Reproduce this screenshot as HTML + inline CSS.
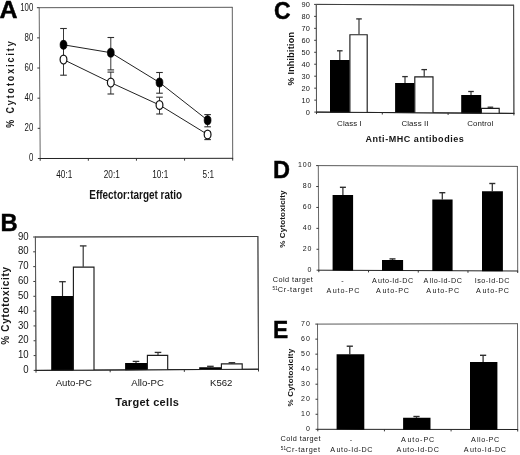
<!DOCTYPE html>
<html><head><meta charset="utf-8"><title>Figure</title>
<style>
html,body{margin:0;padding:0;background:#fff;}
body{width:520px;height:455px;overflow:hidden;font-family:"Liberation Sans",sans-serif;}
svg{display:block;filter:blur(0.3px);}
svg text{font-family:"Liberation Sans",sans-serif;}
</style></head><body>
<svg width="520" height="455" viewBox="0 0 520 455">
<rect x="0" y="0" width="520" height="455" fill="#fff"/>
<g>
<rect x="0" y="0" width="520" height="455" fill="#fff"/>
<line x1="39.20" y1="7.70" x2="232.30" y2="7.30" stroke="#3c3c3c" stroke-width="0.85"/>
<line x1="232.30" y1="6.90" x2="232.70" y2="158.70" stroke="#444" stroke-width="0.85"/>
<line x1="39.20" y1="7.30" x2="40.20" y2="158.90" stroke="#555" stroke-width="0.9"/>
<line x1="39.80" y1="158.50" x2="233.10" y2="158.30" stroke="#222" stroke-width="1.0"/>
<line x1="37.90" y1="158.50" x2="40.20" y2="158.50" stroke="#2e2e2e" stroke-width="0.95"/>
<line x1="37.70" y1="128.34" x2="40.00" y2="128.34" stroke="#2e2e2e" stroke-width="0.95"/>
<line x1="37.50" y1="98.18" x2="39.80" y2="98.18" stroke="#2e2e2e" stroke-width="0.95"/>
<line x1="37.30" y1="68.02" x2="39.60" y2="68.02" stroke="#2e2e2e" stroke-width="0.95"/>
<line x1="37.10" y1="37.86" x2="39.40" y2="37.86" stroke="#2e2e2e" stroke-width="0.95"/>
<line x1="36.90" y1="7.70" x2="39.20" y2="7.70" stroke="#2e2e2e" stroke-width="0.95"/>
<line x1="40.20" y1="158.50" x2="40.20" y2="160.80" stroke="#2e2e2e" stroke-width="0.95"/>
<line x1="88.33" y1="158.45" x2="88.33" y2="160.75" stroke="#2e2e2e" stroke-width="0.95"/>
<line x1="136.45" y1="158.40" x2="136.45" y2="160.70" stroke="#2e2e2e" stroke-width="0.95"/>
<line x1="184.57" y1="158.35" x2="184.57" y2="160.65" stroke="#2e2e2e" stroke-width="0.95"/>
<line x1="232.70" y1="158.30" x2="232.70" y2="160.60" stroke="#2e2e2e" stroke-width="0.95"/>
<text transform="translate(33.30,161.30) scale(0.76,1)" font-size="10.3" text-anchor="end" fill="#151515">0</text>
<text transform="translate(33.30,131.14) scale(0.76,1)" font-size="10.3" text-anchor="end" fill="#151515">20</text>
<text transform="translate(33.30,100.98) scale(0.76,1)" font-size="10.3" text-anchor="end" fill="#151515">40</text>
<text transform="translate(33.30,70.82) scale(0.76,1)" font-size="10.3" text-anchor="end" fill="#151515">60</text>
<text transform="translate(33.30,40.66) scale(0.76,1)" font-size="10.3" text-anchor="end" fill="#151515">80</text>
<text transform="translate(33.30,10.50) scale(0.76,1)" font-size="10.3" text-anchor="end" fill="#151515">100</text>
<line x1="63.50" y1="28.50" x2="63.50" y2="61.00" stroke="#2e2e2e" stroke-width="0.95"/>
<line x1="60.20" y1="28.50" x2="66.80" y2="28.50" stroke="#2e2e2e" stroke-width="1.0999999999999999"/>
<line x1="60.20" y1="61.00" x2="66.80" y2="61.00" stroke="#2e2e2e" stroke-width="1.0999999999999999"/>
<line x1="110.80" y1="37.50" x2="110.80" y2="69.90" stroke="#2e2e2e" stroke-width="0.95"/>
<line x1="107.50" y1="37.50" x2="114.10" y2="37.50" stroke="#2e2e2e" stroke-width="1.0999999999999999"/>
<line x1="107.50" y1="69.90" x2="114.10" y2="69.90" stroke="#2e2e2e" stroke-width="1.0999999999999999"/>
<line x1="159.50" y1="72.50" x2="159.50" y2="93.20" stroke="#2e2e2e" stroke-width="0.95"/>
<line x1="156.20" y1="72.50" x2="162.80" y2="72.50" stroke="#2e2e2e" stroke-width="1.0999999999999999"/>
<line x1="156.20" y1="93.20" x2="162.80" y2="93.20" stroke="#2e2e2e" stroke-width="1.0999999999999999"/>
<line x1="207.60" y1="114.60" x2="207.60" y2="126.80" stroke="#2e2e2e" stroke-width="0.95"/>
<line x1="204.30" y1="114.60" x2="210.90" y2="114.60" stroke="#2e2e2e" stroke-width="1.0999999999999999"/>
<line x1="204.30" y1="126.80" x2="210.90" y2="126.80" stroke="#2e2e2e" stroke-width="1.0999999999999999"/>
<line x1="63.50" y1="44.00" x2="63.50" y2="75.20" stroke="#2e2e2e" stroke-width="0.95"/>
<line x1="60.20" y1="44.00" x2="66.80" y2="44.00" stroke="#2e2e2e" stroke-width="1.0999999999999999"/>
<line x1="60.20" y1="75.20" x2="66.80" y2="75.20" stroke="#2e2e2e" stroke-width="1.0999999999999999"/>
<line x1="110.80" y1="72.10" x2="110.80" y2="94.00" stroke="#2e2e2e" stroke-width="0.95"/>
<line x1="107.50" y1="72.10" x2="114.10" y2="72.10" stroke="#2e2e2e" stroke-width="1.0999999999999999"/>
<line x1="107.50" y1="94.00" x2="114.10" y2="94.00" stroke="#2e2e2e" stroke-width="1.0999999999999999"/>
<line x1="159.50" y1="97.20" x2="159.50" y2="114.00" stroke="#2e2e2e" stroke-width="0.95"/>
<line x1="156.20" y1="97.20" x2="162.80" y2="97.20" stroke="#2e2e2e" stroke-width="1.0999999999999999"/>
<line x1="156.20" y1="114.00" x2="162.80" y2="114.00" stroke="#2e2e2e" stroke-width="1.0999999999999999"/>
<line x1="207.60" y1="131.50" x2="207.60" y2="139.60" stroke="#2e2e2e" stroke-width="0.95"/>
<line x1="204.30" y1="131.50" x2="210.90" y2="131.50" stroke="#2e2e2e" stroke-width="1.0999999999999999"/>
<line x1="204.30" y1="139.60" x2="210.90" y2="139.60" stroke="#2e2e2e" stroke-width="1.0999999999999999"/>
<polyline fill="none" stroke="#222" stroke-width="1.0" points="63.50,44.80 110.80,52.70 159.50,82.50 207.60,120.20"/>
<polyline fill="none" stroke="#222" stroke-width="1.0" points="63.50,59.60 110.80,82.60 159.50,105.00 207.60,134.50"/>
<ellipse cx="63.50" cy="59.60" rx="3.4" ry="4.4" fill="#fff" stroke="#111" stroke-width="1.2"/>
<ellipse cx="110.80" cy="82.60" rx="3.4" ry="4.4" fill="#fff" stroke="#111" stroke-width="1.2"/>
<ellipse cx="159.50" cy="105.00" rx="3.4" ry="4.4" fill="#fff" stroke="#111" stroke-width="1.2"/>
<ellipse cx="207.60" cy="134.50" rx="3.4" ry="4.4" fill="#fff" stroke="#111" stroke-width="1.2"/>
<ellipse cx="63.50" cy="44.80" rx="3.4" ry="4.5" fill="#000" stroke="#000" stroke-width="0.7"/>
<ellipse cx="110.80" cy="52.70" rx="3.4" ry="4.5" fill="#000" stroke="#000" stroke-width="0.7"/>
<ellipse cx="159.50" cy="82.50" rx="3.4" ry="4.5" fill="#000" stroke="#000" stroke-width="0.7"/>
<ellipse cx="207.60" cy="120.20" rx="3.4" ry="4.5" fill="#000" stroke="#000" stroke-width="0.7"/>
<text transform="translate(64.30,177.70) scale(0.8,1)" font-size="10.3" text-anchor="middle" fill="#151515">40:1</text>
<text transform="translate(111.80,177.70) scale(0.8,1)" font-size="10.3" text-anchor="middle" fill="#151515">20:1</text>
<text transform="translate(160.20,177.70) scale(0.8,1)" font-size="10.3" text-anchor="middle" fill="#151515">10:1</text>
<text transform="translate(208.30,177.70) scale(0.8,1)" font-size="10.3" text-anchor="middle" fill="#151515">5:1</text>
<text transform="translate(135.70,199.30) scale(0.83,1)" font-size="12" text-anchor="middle" font-weight="bold" fill="#151515">Effector:target ratio</text>
<text transform="translate(13.60,83.60) rotate(-90) scale(0.85,1)" font-size="10.5" text-anchor="middle" font-weight="bold" letter-spacing="2.27" fill="#151515">% Cytotoxicity</text>
<text transform="translate(8.50,18.40) scale(1.04,1)" font-size="24" text-anchor="middle" font-weight="bold" stroke="#000" stroke-width="0.45" fill="#000">A</text>
<line x1="35.40" y1="237.00" x2="257.90" y2="236.50" stroke="#3c3c3c" stroke-width="0.85"/>
<line x1="257.90" y1="236.10" x2="258.50" y2="369.60" stroke="#444" stroke-width="0.85"/>
<line x1="35.40" y1="236.60" x2="36.00" y2="370.80" stroke="#555" stroke-width="0.9"/>
<line x1="35.60" y1="370.40" x2="258.90" y2="369.20" stroke="#222" stroke-width="1.0"/>
<line x1="33.70" y1="370.40" x2="36.00" y2="370.40" stroke="#2e2e2e" stroke-width="0.95"/>
<line x1="33.63" y1="355.58" x2="35.93" y2="355.58" stroke="#2e2e2e" stroke-width="0.95"/>
<line x1="33.57" y1="340.76" x2="35.87" y2="340.76" stroke="#2e2e2e" stroke-width="0.95"/>
<line x1="33.50" y1="325.93" x2="35.80" y2="325.93" stroke="#2e2e2e" stroke-width="0.95"/>
<line x1="33.43" y1="311.11" x2="35.73" y2="311.11" stroke="#2e2e2e" stroke-width="0.95"/>
<line x1="33.37" y1="296.29" x2="35.67" y2="296.29" stroke="#2e2e2e" stroke-width="0.95"/>
<line x1="33.30" y1="281.47" x2="35.60" y2="281.47" stroke="#2e2e2e" stroke-width="0.95"/>
<line x1="33.23" y1="266.64" x2="35.53" y2="266.64" stroke="#2e2e2e" stroke-width="0.95"/>
<line x1="33.17" y1="251.82" x2="35.47" y2="251.82" stroke="#2e2e2e" stroke-width="0.95"/>
<line x1="33.10" y1="237.00" x2="35.40" y2="237.00" stroke="#2e2e2e" stroke-width="0.95"/>
<line x1="36.00" y1="370.40" x2="36.00" y2="372.70" stroke="#2e2e2e" stroke-width="0.95"/>
<line x1="110.17" y1="370.00" x2="110.17" y2="372.30" stroke="#2e2e2e" stroke-width="0.95"/>
<line x1="184.33" y1="369.60" x2="184.33" y2="371.90" stroke="#2e2e2e" stroke-width="0.95"/>
<line x1="258.50" y1="369.20" x2="258.50" y2="371.50" stroke="#2e2e2e" stroke-width="0.95"/>
<text transform="translate(28.60,373.00) scale(0.96,1)" font-size="10" text-anchor="end" fill="#151515">0</text>
<text transform="translate(28.60,358.18) scale(0.96,1)" font-size="10" text-anchor="end" fill="#151515">10</text>
<text transform="translate(28.60,343.36) scale(0.96,1)" font-size="10" text-anchor="end" fill="#151515">20</text>
<text transform="translate(28.60,328.53) scale(0.96,1)" font-size="10" text-anchor="end" fill="#151515">30</text>
<text transform="translate(28.60,313.71) scale(0.96,1)" font-size="10" text-anchor="end" fill="#151515">40</text>
<text transform="translate(28.60,298.89) scale(0.96,1)" font-size="10" text-anchor="end" fill="#151515">50</text>
<text transform="translate(28.60,284.07) scale(0.96,1)" font-size="10" text-anchor="end" fill="#151515">60</text>
<text transform="translate(28.60,269.24) scale(0.96,1)" font-size="10" text-anchor="end" fill="#151515">70</text>
<text transform="translate(28.60,254.42) scale(0.96,1)" font-size="10" text-anchor="end" fill="#151515">80</text>
<text transform="translate(28.60,239.60) scale(0.96,1)" font-size="10" text-anchor="end" fill="#151515">90</text>
<line x1="62.50" y1="281.70" x2="62.50" y2="296.10" stroke="#2e2e2e" stroke-width="1.15"/>
<line x1="59.20" y1="281.70" x2="65.80" y2="281.70" stroke="#2e2e2e" stroke-width="1.2999999999999998"/>
<line x1="83.20" y1="245.90" x2="83.20" y2="266.70" stroke="#2e2e2e" stroke-width="1.15"/>
<line x1="79.90" y1="245.90" x2="86.50" y2="245.90" stroke="#2e2e2e" stroke-width="1.2999999999999998"/>
<polygon points="51.20,296.10 73.20,296.10 73.20,370.50 51.20,370.62" fill="#000" stroke="none"/>
<polyline points="73.40,370.20 73.40,267.10 94.00,267.10 94.00,370.09" fill="#fff" stroke="#1c1c1c" stroke-width="1.15"/>
<line x1="136.00" y1="361.40" x2="136.00" y2="363.00" stroke="#2e2e2e" stroke-width="1.15"/>
<line x1="132.70" y1="361.40" x2="139.30" y2="361.40" stroke="#2e2e2e" stroke-width="1.2999999999999998"/>
<line x1="158.00" y1="352.40" x2="158.00" y2="355.00" stroke="#2e2e2e" stroke-width="1.15"/>
<line x1="154.70" y1="352.40" x2="161.30" y2="352.40" stroke="#2e2e2e" stroke-width="1.2999999999999998"/>
<polygon points="125.10,363.00 147.20,363.00 147.20,370.10 125.10,370.22" fill="#000" stroke="none"/>
<polyline points="147.40,369.80 147.40,355.40 167.70,355.40 167.70,369.69" fill="#fff" stroke="#1c1c1c" stroke-width="1.15"/>
<line x1="210.40" y1="366.30" x2="210.40" y2="367.30" stroke="#2e2e2e" stroke-width="1.15"/>
<line x1="207.10" y1="366.30" x2="213.70" y2="366.30" stroke="#2e2e2e" stroke-width="1.2999999999999998"/>
<line x1="231.90" y1="362.70" x2="231.90" y2="363.50" stroke="#2e2e2e" stroke-width="1.15"/>
<line x1="228.60" y1="362.70" x2="235.20" y2="362.70" stroke="#2e2e2e" stroke-width="1.2999999999999998"/>
<polygon points="199.20,367.30 221.20,367.30 221.20,369.70 199.20,369.82" fill="#000" stroke="none"/>
<polyline points="221.40,369.40 221.40,363.90 242.20,363.90 242.20,369.29" fill="#fff" stroke="#1c1c1c" stroke-width="1.15"/>
<line x1="35.40" y1="237.00" x2="257.90" y2="236.50" stroke="#3c3c3c" stroke-width="0.85"/>
<line x1="257.90" y1="236.10" x2="258.50" y2="369.60" stroke="#444" stroke-width="0.85"/>
<line x1="35.40" y1="236.60" x2="36.00" y2="370.80" stroke="#555" stroke-width="0.9"/>
<line x1="35.60" y1="370.40" x2="258.90" y2="369.20" stroke="#222" stroke-width="1.0"/>
<text transform="translate(73.80,386.30)" font-size="9.6" text-anchor="middle" fill="#151515">Auto-PC</text>
<text transform="translate(147.60,386.30)" font-size="9.6" text-anchor="middle" fill="#151515">Allo-PC</text>
<text transform="translate(221.20,386.30)" font-size="9.6" text-anchor="middle" fill="#151515">K562</text>
<text transform="translate(147.20,405.80)" font-size="11" text-anchor="middle" font-weight="bold" letter-spacing="0.3" fill="#151515">Target cells</text>
<text transform="translate(9.30,305.50) rotate(-90)" font-size="10" text-anchor="middle" font-weight="bold" letter-spacing="0.68" fill="#151515">% Cytotoxicity</text>
<text transform="translate(9.00,230.70) scale(0.97,1)" font-size="24.5" text-anchor="middle" font-weight="bold" stroke="#000" stroke-width="0.45" fill="#000">B</text>
<line x1="316.30" y1="4.40" x2="513.60" y2="5.20" stroke="#3c3c3c" stroke-width="0.85"/>
<line x1="513.60" y1="4.80" x2="513.90" y2="113.80" stroke="#444" stroke-width="0.85"/>
<line x1="316.30" y1="4.00" x2="316.50" y2="112.50" stroke="#555" stroke-width="0.9"/>
<line x1="316.10" y1="112.10" x2="514.30" y2="113.40" stroke="#222" stroke-width="1.0"/>
<line x1="314.30" y1="112.10" x2="316.50" y2="112.10" stroke="#2e2e2e" stroke-width="0.95"/>
<line x1="314.28" y1="100.13" x2="316.48" y2="100.13" stroke="#2e2e2e" stroke-width="0.95"/>
<line x1="314.26" y1="88.17" x2="316.46" y2="88.17" stroke="#2e2e2e" stroke-width="0.95"/>
<line x1="314.23" y1="76.20" x2="316.43" y2="76.20" stroke="#2e2e2e" stroke-width="0.95"/>
<line x1="314.21" y1="64.23" x2="316.41" y2="64.23" stroke="#2e2e2e" stroke-width="0.95"/>
<line x1="314.19" y1="52.27" x2="316.39" y2="52.27" stroke="#2e2e2e" stroke-width="0.95"/>
<line x1="314.17" y1="40.30" x2="316.37" y2="40.30" stroke="#2e2e2e" stroke-width="0.95"/>
<line x1="314.14" y1="28.33" x2="316.34" y2="28.33" stroke="#2e2e2e" stroke-width="0.95"/>
<line x1="314.12" y1="16.37" x2="316.32" y2="16.37" stroke="#2e2e2e" stroke-width="0.95"/>
<line x1="314.10" y1="4.40" x2="316.30" y2="4.40" stroke="#2e2e2e" stroke-width="0.95"/>
<text transform="translate(309.90,114.50)" font-size="7.4" text-anchor="end" letter-spacing="0.1" fill="#151515">0</text>
<text transform="translate(309.90,102.53)" font-size="7.4" text-anchor="end" letter-spacing="0.1" fill="#151515">10</text>
<text transform="translate(309.90,90.57)" font-size="7.4" text-anchor="end" letter-spacing="0.1" fill="#151515">20</text>
<text transform="translate(309.90,78.60)" font-size="7.4" text-anchor="end" letter-spacing="0.1" fill="#151515">30</text>
<text transform="translate(309.90,66.63)" font-size="7.4" text-anchor="end" letter-spacing="0.1" fill="#151515">40</text>
<text transform="translate(309.90,54.67)" font-size="7.4" text-anchor="end" letter-spacing="0.1" fill="#151515">50</text>
<text transform="translate(309.90,42.70)" font-size="7.4" text-anchor="end" letter-spacing="0.1" fill="#151515">60</text>
<text transform="translate(309.90,30.73)" font-size="7.4" text-anchor="end" letter-spacing="0.1" fill="#151515">70</text>
<text transform="translate(309.90,18.77)" font-size="7.4" text-anchor="end" letter-spacing="0.1" fill="#151515">80</text>
<text transform="translate(309.90,6.80)" font-size="7.4" text-anchor="end" letter-spacing="0.1" fill="#151515">90</text>
<line x1="339.80" y1="50.80" x2="339.80" y2="60.00" stroke="#2e2e2e" stroke-width="1.15"/>
<line x1="337.00" y1="50.80" x2="342.60" y2="50.80" stroke="#2e2e2e" stroke-width="1.2999999999999998"/>
<line x1="359.00" y1="18.90" x2="359.00" y2="34.30" stroke="#2e2e2e" stroke-width="1.15"/>
<line x1="356.20" y1="18.90" x2="361.80" y2="18.90" stroke="#2e2e2e" stroke-width="1.2999999999999998"/>
<polygon points="330.00,60.00 349.70,60.00 349.70,112.62 330.00,112.49" fill="#000" stroke="none"/>
<polyline points="349.90,112.32 349.90,34.70 367.20,34.70 367.20,112.43" fill="#fff" stroke="#1c1c1c" stroke-width="1.15"/>
<line x1="405.00" y1="76.60" x2="405.00" y2="83.10" stroke="#2e2e2e" stroke-width="1.15"/>
<line x1="402.20" y1="76.60" x2="407.80" y2="76.60" stroke="#2e2e2e" stroke-width="1.2999999999999998"/>
<line x1="424.20" y1="69.60" x2="424.20" y2="76.50" stroke="#2e2e2e" stroke-width="1.15"/>
<line x1="421.40" y1="69.60" x2="427.00" y2="69.60" stroke="#2e2e2e" stroke-width="1.2999999999999998"/>
<polygon points="395.10,83.10 414.60,83.10 414.60,113.05 395.10,112.92" fill="#000" stroke="none"/>
<polyline points="414.80,112.75 414.80,76.90 433.00,76.90 433.00,112.87" fill="#fff" stroke="#1c1c1c" stroke-width="1.15"/>
<line x1="471.00" y1="91.50" x2="471.00" y2="95.10" stroke="#2e2e2e" stroke-width="1.15"/>
<line x1="468.20" y1="91.50" x2="473.80" y2="91.50" stroke="#2e2e2e" stroke-width="1.2999999999999998"/>
<line x1="490.40" y1="107.20" x2="490.40" y2="108.00" stroke="#2e2e2e" stroke-width="1.15"/>
<line x1="487.60" y1="107.20" x2="493.20" y2="107.20" stroke="#2e2e2e" stroke-width="1.2999999999999998"/>
<polygon points="461.20,95.10 481.20,95.10 481.20,113.48 461.20,113.35" fill="#000" stroke="none"/>
<polyline points="481.40,113.19 481.40,108.40 499.20,108.40 499.20,113.30" fill="#fff" stroke="#1c1c1c" stroke-width="1.15"/>
<line x1="316.30" y1="4.40" x2="513.60" y2="5.20" stroke="#3c3c3c" stroke-width="0.85"/>
<line x1="513.60" y1="4.80" x2="513.90" y2="113.80" stroke="#444" stroke-width="0.85"/>
<line x1="316.30" y1="4.00" x2="316.50" y2="112.50" stroke="#555" stroke-width="0.9"/>
<line x1="316.10" y1="112.10" x2="514.30" y2="113.40" stroke="#222" stroke-width="1.0"/>
<line x1="316.50" y1="112.10" x2="316.50" y2="114.10" stroke="#2e2e2e" stroke-width="0.95"/>
<line x1="382.30" y1="112.53" x2="382.30" y2="114.53" stroke="#2e2e2e" stroke-width="0.95"/>
<line x1="448.10" y1="112.97" x2="448.10" y2="114.97" stroke="#2e2e2e" stroke-width="0.95"/>
<line x1="513.90" y1="113.40" x2="513.90" y2="115.40" stroke="#2e2e2e" stroke-width="0.95"/>
<text transform="translate(349.50,126.40)" font-size="7.9" text-anchor="middle" letter-spacing="0.1" fill="#151515">Class I</text>
<text transform="translate(415.00,126.40)" font-size="7.9" text-anchor="middle" letter-spacing="0.1" fill="#151515">Class II</text>
<text transform="translate(480.30,126.40)" font-size="7.9" text-anchor="middle" letter-spacing="0.1" fill="#151515">Control</text>
<text transform="translate(414.90,142.00)" font-size="9" text-anchor="middle" font-weight="bold" letter-spacing="0.55" fill="#151515">Anti-MHC antibodies</text>
<text transform="translate(293.60,58.70) rotate(-90)" font-size="9" text-anchor="middle" font-weight="bold" letter-spacing="0.22" fill="#151515">% Inhibition</text>
<text transform="translate(282.30,18.80) scale(0.96,1)" font-size="24" text-anchor="middle" font-weight="bold" stroke="#000" stroke-width="0.45" fill="#000">C</text>
<line x1="318.30" y1="165.60" x2="517.40" y2="166.40" stroke="#3c3c3c" stroke-width="0.85"/>
<line x1="517.40" y1="166.00" x2="517.70" y2="271.40" stroke="#444" stroke-width="0.85"/>
<line x1="318.30" y1="165.20" x2="318.80" y2="270.60" stroke="#555" stroke-width="0.9"/>
<line x1="318.40" y1="270.20" x2="518.10" y2="271.00" stroke="#222" stroke-width="1.0"/>
<line x1="316.60" y1="270.20" x2="318.80" y2="270.20" stroke="#2e2e2e" stroke-width="0.95"/>
<line x1="316.50" y1="249.28" x2="318.70" y2="249.28" stroke="#2e2e2e" stroke-width="0.95"/>
<line x1="316.40" y1="228.36" x2="318.60" y2="228.36" stroke="#2e2e2e" stroke-width="0.95"/>
<line x1="316.30" y1="207.44" x2="318.50" y2="207.44" stroke="#2e2e2e" stroke-width="0.95"/>
<line x1="316.20" y1="186.52" x2="318.40" y2="186.52" stroke="#2e2e2e" stroke-width="0.95"/>
<line x1="316.10" y1="165.60" x2="318.30" y2="165.60" stroke="#2e2e2e" stroke-width="0.95"/>
<line x1="318.80" y1="270.20" x2="318.80" y2="272.20" stroke="#2e2e2e" stroke-width="0.95"/>
<line x1="368.53" y1="270.40" x2="368.53" y2="272.40" stroke="#2e2e2e" stroke-width="0.95"/>
<line x1="418.25" y1="270.60" x2="418.25" y2="272.60" stroke="#2e2e2e" stroke-width="0.95"/>
<line x1="467.98" y1="270.80" x2="467.98" y2="272.80" stroke="#2e2e2e" stroke-width="0.95"/>
<line x1="517.70" y1="271.00" x2="517.70" y2="273.00" stroke="#2e2e2e" stroke-width="0.95"/>
<text transform="translate(312.30,272.00)" font-size="7.0" text-anchor="end" letter-spacing="0.9" fill="#151515">0</text>
<text transform="translate(312.30,251.08)" font-size="7.0" text-anchor="end" letter-spacing="0.9" fill="#151515">20</text>
<text transform="translate(312.30,230.16)" font-size="7.0" text-anchor="end" letter-spacing="0.9" fill="#151515">40</text>
<text transform="translate(312.30,209.24)" font-size="7.0" text-anchor="end" letter-spacing="0.9" fill="#151515">60</text>
<text transform="translate(312.30,188.32)" font-size="7.0" text-anchor="end" letter-spacing="0.9" fill="#151515">80</text>
<text transform="translate(312.30,167.40)" font-size="7.0" text-anchor="end" letter-spacing="0.9" fill="#151515">100</text>
<line x1="342.90" y1="187.30" x2="342.90" y2="195.00" stroke="#2e2e2e" stroke-width="1.25"/>
<line x1="339.90" y1="187.30" x2="345.90" y2="187.30" stroke="#2e2e2e" stroke-width="1.4"/>
<polygon points="332.60,195.00 353.10,195.00 353.10,270.64 332.60,270.56" fill="#000" stroke="none"/>
<line x1="392.50" y1="258.90" x2="392.50" y2="260.00" stroke="#2e2e2e" stroke-width="1.25"/>
<line x1="389.50" y1="258.90" x2="395.50" y2="258.90" stroke="#2e2e2e" stroke-width="1.4"/>
<polygon points="382.00,260.00 403.10,260.00 403.10,270.84 382.00,270.75" fill="#000" stroke="none"/>
<line x1="442.30" y1="192.70" x2="442.30" y2="199.60" stroke="#2e2e2e" stroke-width="1.25"/>
<line x1="439.30" y1="192.70" x2="445.30" y2="192.70" stroke="#2e2e2e" stroke-width="1.4"/>
<polygon points="432.30,199.60 452.60,199.60 452.60,271.04 432.30,270.96" fill="#000" stroke="none"/>
<line x1="492.30" y1="183.50" x2="492.30" y2="191.20" stroke="#2e2e2e" stroke-width="1.25"/>
<line x1="489.30" y1="183.50" x2="495.30" y2="183.50" stroke="#2e2e2e" stroke-width="1.4"/>
<polygon points="482.00,191.20 502.90,191.20 502.90,271.24 482.00,271.16" fill="#000" stroke="none"/>
<text transform="translate(342.60,283.20)" font-size="7.2" text-anchor="middle" letter-spacing="0.5" fill="#151515">-</text>
<text transform="translate(343.30,293.00)" font-size="7.2" text-anchor="middle" letter-spacing="0.85" fill="#151515">A<tspan dx="0.7">uto-PC</tspan></text>
<text transform="translate(392.80,283.20)" font-size="7.2" text-anchor="middle" letter-spacing="0.5" fill="#151515">A<tspan dx="0.7">uto-Id-DC</tspan></text>
<text transform="translate(393.00,293.00)" font-size="7.2" text-anchor="middle" letter-spacing="0.85" fill="#151515">A<tspan dx="0.7">uto-PC</tspan></text>
<text transform="translate(442.90,283.20)" font-size="7.2" text-anchor="middle" letter-spacing="0.5" fill="#151515">A<tspan dx="0.7">llo-Id-DC</tspan></text>
<text transform="translate(443.10,293.00)" font-size="7.2" text-anchor="middle" letter-spacing="0.85" fill="#151515">A<tspan dx="0.7">uto-PC</tspan></text>
<text transform="translate(492.30,283.20)" font-size="7.2" text-anchor="middle" letter-spacing="0.5" fill="#151515">Iso-Id-DC</text>
<text transform="translate(493.00,293.00)" font-size="7.2" text-anchor="middle" letter-spacing="0.85" fill="#151515">A<tspan dx="0.7">uto-PC</tspan></text>
<text transform="translate(272.80,282.40)" font-size="7.3" text-anchor="start" letter-spacing="0.43" fill="#151515">Cold target</text>
<text x="272.5" y="292.0" font-size="7.3" letter-spacing="0.72" fill="#151515"><tspan font-size="4.6" dy="-1.9" letter-spacing="0.1">51</tspan><tspan dy="1.9">Cr-target</tspan></text>
<text transform="translate(284.80,219.10) rotate(-90)" font-size="8" text-anchor="middle" font-weight="bold" letter-spacing="0.17" fill="#151515">% Cytotoxicity</text>
<text transform="translate(281.50,178.00) scale(0.96,1)" font-size="24.5" text-anchor="middle" font-weight="bold" stroke="#000" stroke-width="0.45" fill="#000">D</text>
<line x1="317.50" y1="324.10" x2="517.50" y2="323.70" stroke="#3c3c3c" stroke-width="0.85"/>
<line x1="517.50" y1="323.30" x2="517.70" y2="429.90" stroke="#444" stroke-width="0.85"/>
<line x1="317.50" y1="323.70" x2="317.80" y2="429.70" stroke="#555" stroke-width="0.9"/>
<line x1="317.40" y1="429.30" x2="518.10" y2="429.50" stroke="#222" stroke-width="1.0"/>
<line x1="315.60" y1="429.30" x2="317.80" y2="429.30" stroke="#2e2e2e" stroke-width="0.95"/>
<line x1="315.56" y1="414.27" x2="317.76" y2="414.27" stroke="#2e2e2e" stroke-width="0.95"/>
<line x1="315.51" y1="399.24" x2="317.71" y2="399.24" stroke="#2e2e2e" stroke-width="0.95"/>
<line x1="315.47" y1="384.21" x2="317.67" y2="384.21" stroke="#2e2e2e" stroke-width="0.95"/>
<line x1="315.43" y1="369.19" x2="317.63" y2="369.19" stroke="#2e2e2e" stroke-width="0.95"/>
<line x1="315.39" y1="354.16" x2="317.59" y2="354.16" stroke="#2e2e2e" stroke-width="0.95"/>
<line x1="315.34" y1="339.13" x2="317.54" y2="339.13" stroke="#2e2e2e" stroke-width="0.95"/>
<line x1="315.30" y1="324.10" x2="317.50" y2="324.10" stroke="#2e2e2e" stroke-width="0.95"/>
<line x1="317.80" y1="429.30" x2="317.80" y2="431.30" stroke="#2e2e2e" stroke-width="0.95"/>
<line x1="384.43" y1="429.37" x2="384.43" y2="431.37" stroke="#2e2e2e" stroke-width="0.95"/>
<line x1="451.07" y1="429.43" x2="451.07" y2="431.43" stroke="#2e2e2e" stroke-width="0.95"/>
<line x1="517.70" y1="429.50" x2="517.70" y2="431.50" stroke="#2e2e2e" stroke-width="0.95"/>
<text transform="translate(310.70,430.90)" font-size="7.0" text-anchor="end" letter-spacing="0.9" fill="#151515">0</text>
<text transform="translate(310.70,415.87)" font-size="7.0" text-anchor="end" letter-spacing="0.9" fill="#151515">10</text>
<text transform="translate(310.70,400.84)" font-size="7.0" text-anchor="end" letter-spacing="0.9" fill="#151515">20</text>
<text transform="translate(310.70,385.81)" font-size="7.0" text-anchor="end" letter-spacing="0.9" fill="#151515">30</text>
<text transform="translate(310.70,370.79)" font-size="7.0" text-anchor="end" letter-spacing="0.9" fill="#151515">40</text>
<text transform="translate(310.70,355.76)" font-size="7.0" text-anchor="end" letter-spacing="0.9" fill="#151515">50</text>
<text transform="translate(310.70,340.73)" font-size="7.0" text-anchor="end" letter-spacing="0.9" fill="#151515">60</text>
<text transform="translate(310.70,325.70)" font-size="7.0" text-anchor="end" letter-spacing="0.9" fill="#151515">70</text>
<line x1="349.80" y1="346.20" x2="349.80" y2="354.20" stroke="#2e2e2e" stroke-width="1.25"/>
<line x1="346.70" y1="346.20" x2="352.90" y2="346.20" stroke="#2e2e2e" stroke-width="1.4"/>
<polygon points="336.60,354.20 364.30,354.20 364.30,429.65 336.60,429.62" fill="#000" stroke="none"/>
<line x1="416.50" y1="416.50" x2="416.50" y2="417.80" stroke="#2e2e2e" stroke-width="1.25"/>
<line x1="413.40" y1="416.50" x2="419.60" y2="416.50" stroke="#2e2e2e" stroke-width="1.4"/>
<polygon points="403.10,417.80 430.50,417.80 430.50,429.71 403.10,429.69" fill="#000" stroke="none"/>
<line x1="483.10" y1="355.30" x2="483.10" y2="361.90" stroke="#2e2e2e" stroke-width="1.25"/>
<line x1="480.00" y1="355.30" x2="486.20" y2="355.30" stroke="#2e2e2e" stroke-width="1.4"/>
<polygon points="470.00,361.90 497.40,361.90 497.40,429.78 470.00,429.75" fill="#000" stroke="none"/>
<text transform="translate(351.30,442.00)" font-size="7.2" text-anchor="middle" letter-spacing="0.5" fill="#151515">-</text>
<text transform="translate(351.70,452.00)" font-size="7.2" text-anchor="middle" letter-spacing="0.62" fill="#151515">A<tspan dx="0.7">uto-Id-DC</tspan></text>
<text transform="translate(418.10,442.00)" font-size="7.2" text-anchor="middle" letter-spacing="0.9" fill="#151515">A<tspan dx="0.7">uto-PC</tspan></text>
<text transform="translate(418.00,452.00)" font-size="7.2" text-anchor="middle" letter-spacing="0.62" fill="#151515">A<tspan dx="0.7">uto-Id-DC</tspan></text>
<text transform="translate(485.30,442.00)" font-size="7.2" text-anchor="middle" letter-spacing="0.5" fill="#151515">A<tspan dx="0.7">llo-PC</tspan></text>
<text transform="translate(485.20,452.00)" font-size="7.2" text-anchor="middle" letter-spacing="0.62" fill="#151515">A<tspan dx="0.7">uto-Id-DC</tspan></text>
<text transform="translate(280.60,440.80)" font-size="7.3" text-anchor="start" letter-spacing="0.42" fill="#151515">Cold target</text>
<text x="280.8" y="451.8" font-size="7.3" letter-spacing="0.65" fill="#151515"><tspan font-size="4.6" dy="-1.9" letter-spacing="0.1">51</tspan><tspan dy="1.9">Cr-target</tspan></text>
<text transform="translate(293.10,377.60) rotate(-90)" font-size="8" text-anchor="middle" font-weight="bold" letter-spacing="0.19" fill="#151515">% Cytotoxicity</text>
<text transform="translate(280.70,338.40) scale(0.93,1)" font-size="24.5" text-anchor="middle" font-weight="bold" stroke="#000" stroke-width="0.45" fill="#000">E</text>
</g>
</svg>
</body></html>
